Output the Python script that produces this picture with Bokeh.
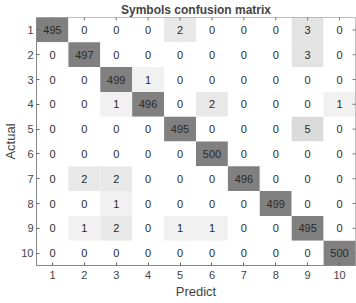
import math
from bokeh.plotting import figure
from bokeh.models import ColumnDataSource, FixedTicker, Range1d
from bokeh.embed import file_html
from bokeh.resources import INLINE

classes = [1, 2, 3, 4, 5, 6, 7, 8, 9, 10]
tick_labels = ["1", "2", "3", "4", "5", "6", "7", "8", "9", "10"]
matrix = [
    [495, 0, 0, 0, 2, 0, 0, 0, 3, 0],
    [0, 497, 0, 0, 0, 0, 0, 0, 3, 0],
    [0, 0, 499, 1, 0, 0, 0, 0, 0, 0],
    [0, 0, 1, 496, 0, 2, 0, 0, 0, 1],
    [0, 0, 0, 0, 495, 0, 0, 0, 5, 0],
    [0, 0, 0, 0, 0, 500, 0, 0, 0, 0],
    [0, 2, 2, 0, 0, 0, 496, 0, 0, 0],
    [0, 0, 1, 0, 0, 0, 0, 499, 0, 0],
    [0, 1, 2, 0, 1, 1, 0, 0, 495, 0],
    [0, 0, 0, 0, 0, 0, 0, 0, 0, 500],
]
title = "Symbols confusion matrix"
xlabel = "Predict"
ylabel = "Actual"


def gray(v):
    g = int(round(255 - 20.5 * math.log(1 + v)))
    return "#%02x%02x%02x" % (g, g, g)


xs, ys, vals, cols = [], [], [], []
for i, row in enumerate(matrix):
    for j, v in enumerate(row):
        xs.append(classes[j])
        ys.append(classes[i])
        vals.append(str(v))
        cols.append(gray(v))
src = ColumnDataSource(dict(x=xs, y=ys, t=vals, c=cols))

FONT = "Liberation Sans"
x_lo, x_hi = classes[0] - 0.5, classes[-1] + 0.5
p = figure(width=356, height=303, output_backend="svg", toolbar_location=None,
           x_range=Range1d(x_lo, x_hi), y_range=Range1d(x_hi, x_lo),
           min_border_left=35, min_border_right=1, min_border_top=17, min_border_bottom=38)
p.rect(x="x", y="y", width=1, height=1, source=src, fill_color="c", line_color=None)
p.text(x="x", y="y", text="t", source=src, text_align="center", text_baseline="middle",
       text_font_size="11px", text_color="#2a2a2a", text_font={"value": FONT})

# inward ticks on the top and right edges of the box
p.scatter(x=classes, y=[x_lo] * len(classes), marker="dash", size=6, angle=math.pi / 2,
          line_color="#777777", line_width=1)
p.scatter(x=[x_hi] * len(classes), y=classes, marker="dash", size=6,
          line_color="#777777", line_width=1)

p.title.text = title
p.title.align = "center"
p.title.text_font = FONT
p.title.text_font_size = "12px"
p.title.text_font_style = "bold"
p.title.standoff = 1
p.title.offset = 17

p.xgrid.visible = False
p.ygrid.visible = False
p.outline_line_color = "#aaaaaa"
p.outline_line_width = 1
p.background_fill_color = "white"
p.border_fill_color = "white"

ticker = FixedTicker(ticks=classes)
overrides = {c: l for c, l in zip(classes, tick_labels)}
for ax in (p.xaxis[0], p.yaxis[0]):
    ax.ticker = ticker
    ax.major_label_overrides = overrides
    ax.major_tick_in = 3
    ax.major_tick_out = 0
    ax.minor_tick_line_color = None
    ax.axis_line_color = "#888888"
    ax.major_tick_line_color = "#666666"
    ax.major_label_text_font = FONT
    ax.major_label_text_font_size = "11px"
    ax.major_label_text_color = "#444444"
    ax.axis_label_text_font = FONT
    ax.axis_label_text_font_size = "13px"
    ax.axis_label_text_font_style = "normal"
    ax.axis_label_text_color = "#444444"
p.xaxis.axis_label = xlabel
p.yaxis.axis_label = ylabel
p.xaxis.major_label_standoff = 5
p.yaxis.major_label_standoff = 3
p.xaxis.axis_label_standoff = 2
p.yaxis.axis_label_standoff = 0

open("out.html", "w").write(file_html(p, INLINE))
